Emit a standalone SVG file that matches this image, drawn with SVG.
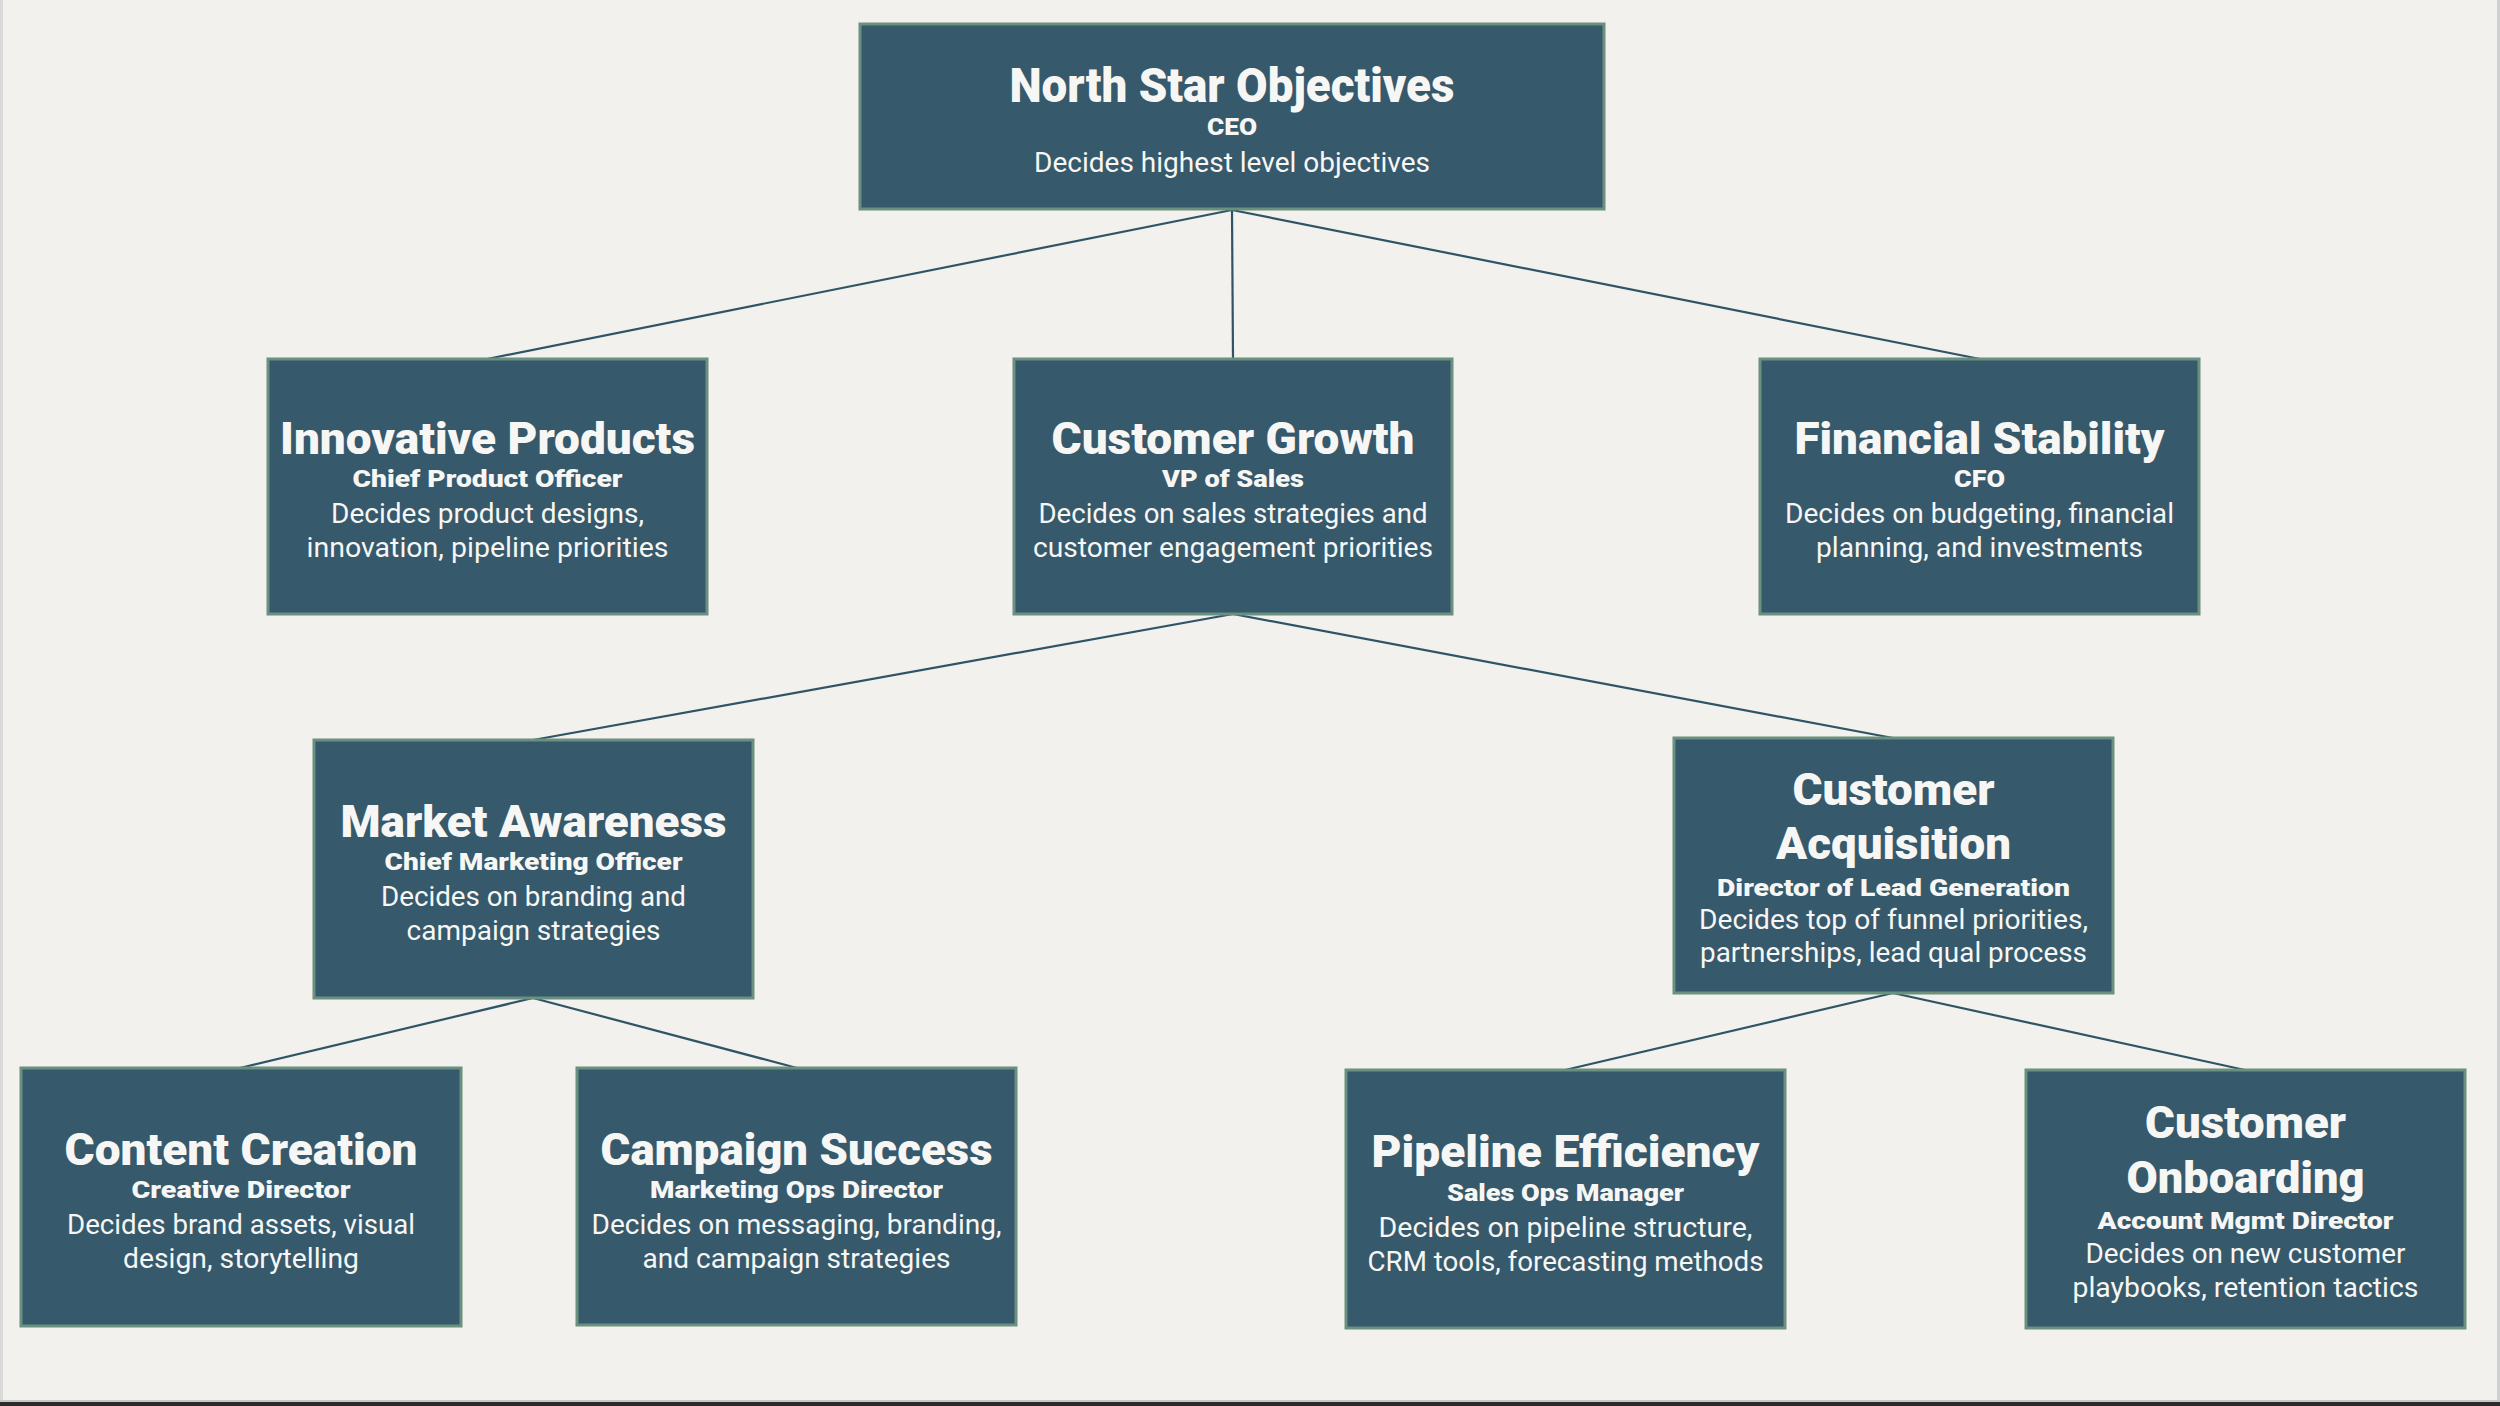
<svg xmlns="http://www.w3.org/2000/svg" width="2500" height="1406" viewBox="0 0 2500 1406">
<style>
.bg{fill:#f2f1ed}
.box{fill:#36596b;stroke:#6a9080;stroke-width:3}
.conn{stroke:#2f5466;stroke-width:2.2;fill:none}
text{font-family:Roboto,"Liberation Sans",sans-serif;fill:#f6f6f4;text-anchor:middle}
.t{font-size:45px;font-weight:900}
.tt{font-size:48px;font-weight:900}
.s{font-size:24px;font-weight:900}
.d{font-size:27px;font-weight:400}
.dd{font-size:28px;font-weight:400}
</style>
<rect class="bg" x="0" y="0" width="2500" height="1406"/>
<rect x="0" y="0" width="3" height="1402" fill="#d9d9d9"/>
<rect x="2497" y="0" width="3" height="1402" fill="#d0d0d0"/>
<rect x="0" y="1400" width="2500" height="2" fill="#c8c8c8"/>
<rect x="0" y="1402" width="2500" height="4" fill="#2b2b2b"/>
<g id="connectors">
<line class="conn" x1="1232" y1="210" x2="487" y2="359"/>
<line class="conn" x1="1232" y1="210" x2="1233" y2="359"/>
<line class="conn" x1="1232" y1="210" x2="1980" y2="359"/>
<line class="conn" x1="1233" y1="614" x2="533" y2="740"/>
<line class="conn" x1="1233" y1="614" x2="1893" y2="738"/>
<line class="conn" x1="533" y1="998" x2="240" y2="1068"/>
<line class="conn" x1="533" y1="998" x2="797" y2="1068"/>
<line class="conn" x1="1893" y1="993" x2="1565" y2="1070"/>
<line class="conn" x1="1893" y1="993" x2="2245" y2="1070"/>
</g>
<g id="north-star">
<rect class="box" x="860" y="24" width="744" height="185"/>
<text class="tt" x="1232" y="102" textLength="445" lengthAdjust="spacingAndGlyphs">North Star Objectives</text>
<text class="s" x="1232" y="135" textLength="50" lengthAdjust="spacingAndGlyphs">CEO</text>
<text class="dd" x="1232" y="172" textLength="396" lengthAdjust="spacingAndGlyphs">Decides highest level objectives</text>
</g>
<g id="innovative-products">
<rect class="box" x="268" y="359" width="439" height="255"/>
<text class="t" x="487.5" y="454" textLength="415" lengthAdjust="spacingAndGlyphs">Innovative Products</text>
<text class="s" x="487.5" y="487" textLength="270" lengthAdjust="spacingAndGlyphs">Chief Product Officer</text>
<text class="d" x="487.5" y="523" textLength="313" lengthAdjust="spacingAndGlyphs">Decides product designs,</text>
<text class="d" x="487.5" y="557" textLength="362" lengthAdjust="spacingAndGlyphs">innovation, pipeline priorities</text>
</g>
<g id="customer-growth">
<rect class="box" x="1014" y="359" width="438" height="255"/>
<text class="t" x="1233" y="454" textLength="363" lengthAdjust="spacingAndGlyphs">Customer Growth</text>
<text class="s" x="1233" y="487" textLength="142" lengthAdjust="spacingAndGlyphs">VP of Sales</text>
<text class="d" x="1233" y="523" textLength="389" lengthAdjust="spacingAndGlyphs">Decides on sales strategies and</text>
<text class="d" x="1233" y="557" textLength="400" lengthAdjust="spacingAndGlyphs">customer engagement priorities</text>
</g>
<g id="financial-stability">
<rect class="box" x="1760" y="359" width="439" height="255"/>
<text class="t" x="1979.5" y="454" textLength="370" lengthAdjust="spacingAndGlyphs">Financial Stability</text>
<text class="s" x="1979.5" y="487" textLength="51" lengthAdjust="spacingAndGlyphs">CFO</text>
<text class="d" x="1979.5" y="523" textLength="389" lengthAdjust="spacingAndGlyphs">Decides on budgeting, financial</text>
<text class="d" x="1979.5" y="557" textLength="327" lengthAdjust="spacingAndGlyphs">planning, and investments</text>
</g>
<g id="market-awareness">
<rect class="box" x="314" y="740" width="439" height="258"/>
<text class="t" x="533.5" y="837" textLength="386" lengthAdjust="spacingAndGlyphs">Market Awareness</text>
<text class="s" x="533.5" y="870" textLength="298" lengthAdjust="spacingAndGlyphs">Chief Marketing Officer</text>
<text class="d" x="533.5" y="906" textLength="305" lengthAdjust="spacingAndGlyphs">Decides on branding and</text>
<text class="d" x="533.5" y="940" textLength="254" lengthAdjust="spacingAndGlyphs">campaign strategies</text>
</g>
<g id="customer-acquisition">
<rect class="box" x="1674" y="738" width="439" height="255"/>
<text class="t" x="1893.5" y="805" textLength="202" lengthAdjust="spacingAndGlyphs">Customer</text>
<text class="t" x="1893.5" y="859" textLength="235" lengthAdjust="spacingAndGlyphs">Acquisition</text>
<text class="s" x="1893.5" y="896" textLength="353" lengthAdjust="spacingAndGlyphs">Director of Lead Generation</text>
<text class="d" x="1893.5" y="929" textLength="389" lengthAdjust="spacingAndGlyphs">Decides top of funnel priorities,</text>
<text class="d" x="1893.5" y="962" textLength="387" lengthAdjust="spacingAndGlyphs">partnerships, lead qual process</text>
</g>
<g id="content-creation">
<rect class="box" x="21" y="1068" width="440" height="258"/>
<text class="t" x="241" y="1165" textLength="353" lengthAdjust="spacingAndGlyphs">Content Creation</text>
<text class="s" x="241" y="1198" textLength="219" lengthAdjust="spacingAndGlyphs">Creative Director</text>
<text class="d" x="241" y="1234" textLength="348" lengthAdjust="spacingAndGlyphs">Decides brand assets, visual</text>
<text class="d" x="241" y="1268" textLength="236" lengthAdjust="spacingAndGlyphs">design, storytelling</text>
</g>
<g id="campaign-success">
<rect class="box" x="577" y="1068" width="439" height="257"/>
<text class="t" x="796.5" y="1165" textLength="392" lengthAdjust="spacingAndGlyphs">Campaign Success</text>
<text class="s" x="796.5" y="1198" textLength="293" lengthAdjust="spacingAndGlyphs">Marketing Ops Director</text>
<text class="d" x="796.5" y="1234" textLength="410" lengthAdjust="spacingAndGlyphs">Decides on messaging, branding,</text>
<text class="d" x="796.5" y="1268" textLength="308" lengthAdjust="spacingAndGlyphs">and campaign strategies</text>
</g>
<g id="pipeline-efficiency">
<rect class="box" x="1346" y="1070" width="439" height="258"/>
<text class="t" x="1565.5" y="1167" textLength="388" lengthAdjust="spacingAndGlyphs">Pipeline Efficiency</text>
<text class="s" x="1565.5" y="1201" textLength="237" lengthAdjust="spacingAndGlyphs">Sales Ops Manager</text>
<text class="d" x="1565.5" y="1237" textLength="374" lengthAdjust="spacingAndGlyphs">Decides on pipeline structure,</text>
<text class="d" x="1565.5" y="1271" textLength="396" lengthAdjust="spacingAndGlyphs">CRM tools, forecasting methods</text>
</g>
<g id="customer-onboarding">
<rect class="box" x="2026" y="1070" width="439" height="258"/>
<text class="t" x="2245.5" y="1138" textLength="201" lengthAdjust="spacingAndGlyphs">Customer</text>
<text class="t" x="2245.5" y="1193" textLength="238" lengthAdjust="spacingAndGlyphs">Onboarding</text>
<text class="s" x="2245.5" y="1229" textLength="296" lengthAdjust="spacingAndGlyphs">Account Mgmt Director</text>
<text class="d" x="2245.5" y="1263" textLength="320" lengthAdjust="spacingAndGlyphs">Decides on new customer</text>
<text class="d" x="2245.5" y="1297" textLength="346" lengthAdjust="spacingAndGlyphs">playbooks, retention tactics</text>
</g>
</svg>
